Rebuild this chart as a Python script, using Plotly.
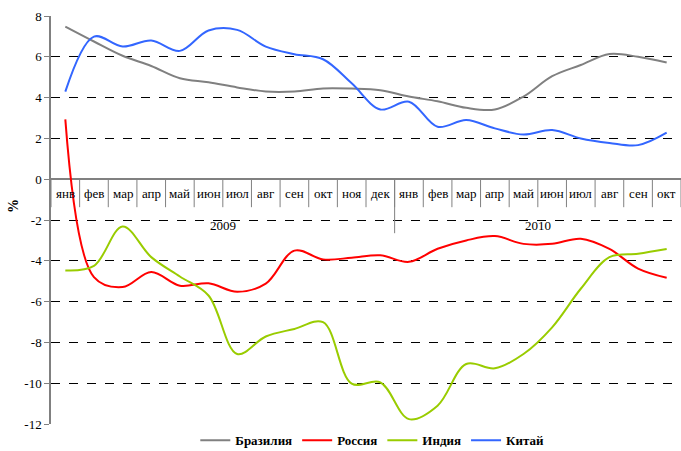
import plotly.graph_objects as go

months = ["янв", "фев", "мар", "апр", "май", "июн", "июл", "авг", "сен", "окт", "ноя", "дек",
          "янв", "фев", "мар", "апр", "май", "июн", "июл", "авг", "сен", "окт"]
years = ["2009", "2010"]
year_counts = [12, 10]

brazil = [7.48, 6.75, 6.05, 5.55, 4.95, 4.75, 4.5, 4.3, 4.3, 4.45, 4.44, 4.36,
          4.05, 3.82, 3.5, 3.42, 4.05, 5.05, 5.6, 6.14, 6.0, 5.72]
russia = [2.93, -4.8, -5.29, -4.55, -5.22, -5.1, -5.52, -5.12, -3.5, -3.93, -3.85, -3.73,
          -4.05, -3.41, -3.0, -2.79, -3.17, -3.17, -2.92, -3.42, -4.38, -4.83]
india = [-4.47, -4.25, -2.32, -3.82, -4.77, -5.7, -8.57, -7.71, -7.34, -7.01, -10.02, -9.96,
         -11.76, -11.1, -9.06, -9.27, -8.57, -7.26, -5.37, -3.82, -3.65, -3.42]
china = [4.29, 6.99, 6.5, 6.8, 6.29, 7.29, 7.32, 6.5, 6.13, 5.88, 4.7, 3.42,
         3.8, 2.57, 2.9, 2.49, 2.19, 2.41, 2.0, 1.78, 1.67, 2.28]

series = [("Бразилия", brazil, "#808080"), ("Россия", russia, "#FF0000"),
          ("Индия", india, "#99CC00"), ("Китай", china, "#3366FF")]

y_ticks = [8, 6, 4, 2, 0, -2, -4, -6, -8, -10, -12]
y_ticktext = [str(v) for v in y_ticks]

FONT = "Liberation Serif, Times New Roman, serif"
xs = list(range(len(months)))

fig = go.Figure()
for name, vals, col in series:
    fig.add_trace(go.Scatter(x=xs, y=vals, name=name, mode="lines",
                             line=dict(color=col, width=2, shape="spline", smoothing=1)))

annotations = []
shapes = []
for i, m in enumerate(months):
    annotations.append(dict(x=i, y=0, xref="x", yref="y", text=m, showarrow=False,
                            yshift=-14, font=dict(family=FONT, size=13, color="black")))
for i in range(len(months) + 1):
    shapes.append(dict(type="line", xref="x", yref="y", ysizemode="pixel", yanchor=0,
                       x0=i - 0.5, x1=i - 0.5, y0=0, y1=-28,
                       line=dict(color="#808080", width=1)))
start = 0
for yr, cnt in zip(years, year_counts):
    annotations.append(dict(x=start + (cnt - 1) / 2, y=0, xref="x", yref="y", text=yr,
                            showarrow=False, yshift=-46,
                            font=dict(family=FONT, size=13, color="black")))
    if start > 0:
        shapes.append(dict(type="line", xref="x", yref="y", ysizemode="pixel", yanchor=0,
                           x0=start - 0.5, x1=start - 0.5, y0=0, y1=-54,
                           line=dict(color="#808080", width=1)))
    start += cnt

annotations.append(dict(x=-0.075, y=0.535, xref="paper", yref="paper", text="<b>%</b>",
                        showarrow=False, textangle=-90,
                        font=dict(family=FONT, size=14, color="black")))

fig.update_layout(
    template="none",
    width=681, height=451,
    margin=dict(l=51, r=0, t=16, b=27, autoexpand=False),
    paper_bgcolor="white", plot_bgcolor="white",
    font=dict(family=FONT, size=13, color="black"),
    showlegend=True,
    legend=dict(orientation="h", x=0.51, xanchor="center", y=-0.04, yanchor="middle",
                font=dict(family=FONT, size=13, color="black", weight="bold"),
                itemwidth=30, bgcolor="rgba(0,0,0,0)"),
    annotations=annotations,
    shapes=shapes,
)
fig.update_xaxes(range=[-0.5, len(months) - 0.5], showticklabels=False, showgrid=False,
                 zeroline=False, showline=False, ticks="", automargin=False)
fig.update_yaxes(range=[-12, 8], tickvals=y_ticks, ticktext=y_ticktext, automargin=False,
                 showgrid=True, gridcolor="black", griddash="dash", gridwidth=1,
                 zeroline=True, zerolinecolor="#808080", zerolinewidth=1.5,
                 showline=True, linecolor="#808080", linewidth=1.5,
                 ticks="outside", ticklen=5, tickcolor="#808080",
                 tickfont=dict(family=FONT, size=13, color="black"))

fig.write_html("out.html", config={"displayModeBar": False},
               post_script="document.body.style.margin='0';document.body.style.overflow='hidden';")
